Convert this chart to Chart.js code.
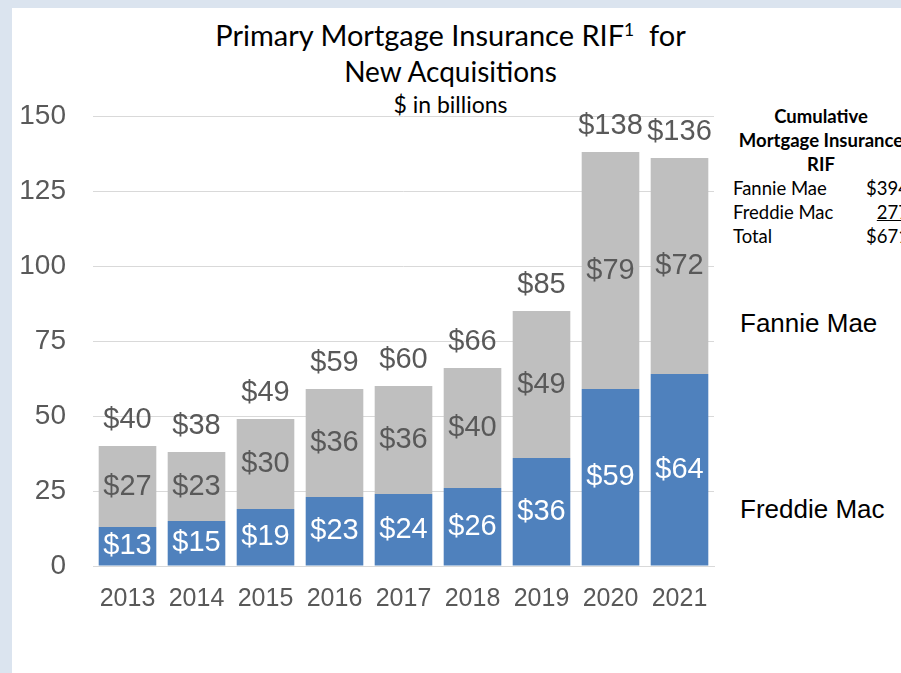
<!DOCTYPE html>
<html>
<head>
<meta charset="utf-8">
<script src="https://cdn.jsdelivr.net/npm/chart.js@4/dist/chart.umd.min.js"></script>
<style>
  html, body { margin: 0; padding: 0; }
  body { width: 901px; height: 673px; overflow: hidden; background: #dbe4ef; position: relative; }
  #panel { position: absolute; left: 12px; top: 8px; right: 0; bottom: 0; background: #fff; }
  #wrap { position: absolute; left: 0; top: 0; width: 901px; height: 673px; }
  .title { position: absolute; left: 0; width: 901px; text-align: center; font-family: Lato, "Open Sans", sans-serif; color: #000; white-space: pre; }
  .title sup { font-size: 0.6em; vertical-align: 0.55em; line-height: 0; }
  .side { position: absolute; font-family: "Liberation Sans", Arial, sans-serif; font-size: 26px; color: #000; }
  #cum { position: absolute; left: 733px; top: 104px; width: 176px; font-family: Lato, "Open Sans", sans-serif; font-size: 18.5px; color: #000; line-height: 24px; }
  #cum .h { text-align: center; font-weight: bold; white-space: nowrap; }
  #cum .r { display: flex; justify-content: space-between; }
  #cum .u { text-decoration: underline; }
</style>
</head>
<body>
<div id="panel"></div>
<div class="title" style="top:17px;font-size:29px;">Primary Mortgage Insurance RIF<sup>1</sup>  for</div>
<div class="title" style="top:54px;font-size:28px;">New Acquisitions</div>
<div class="title" style="top:90px;font-size:23px;">$ in billions</div>
<div id="cum">
  <div class="h">Cumulative</div>
  <div class="h">Mortgage Insurance</div>
  <div class="h">RIF</div>
  <div class="r"><span>Fannie Mae</span><span>$394</span></div>
  <div class="r"><span>Freddie Mac</span><span class="u">277</span></div>
  <div class="r"><span>Total</span><span>$671</span></div>
</div>
<div class="side" style="left:740px;top:308px;">Fannie Mae</div>
<div class="side" style="left:740px;top:494px;">Freddie Mac</div>
<div id="wrap"><canvas id="chart"></canvas></div>
<script>
const years = ['2013', '2014', '2015', '2016', '2017', '2018', '2019', '2020', '2021'];
const freddieMac = [13, 15, 19, 23, 24, 26, 36, 59, 64];
const fannieMae = [27, 23, 30, 36, 36, 40, 49, 79, 72];
const yTicks = [0, 25, 50, 75, 100, 125, 150];

const labelFont = '29px "Liberation Sans", Arial, sans-serif';

const barLabels = {
    id: 'barLabels',
    afterDatasetsDraw(chart) {
        const ctx = chart.ctx;
        ctx.save();
        ctx.font = labelFont;
        ctx.textAlign = 'center';
        ctx.textBaseline = 'middle';
        chart.data.datasets.forEach(function (ds, i) {
            const meta = chart.getDatasetMeta(i);
            meta.data.forEach(function (bar, j) {
                ctx.fillStyle = i === 0 ? '#ffffff' : '#595959';
                ctx.fillText('$' + ds.data[j], bar.x, (bar.y + bar.base) / 2);
            });
        });
        // totals above the stack
        const top = chart.getDatasetMeta(chart.data.datasets.length - 1);
        top.data.forEach(function (bar, j) {
            const total = freddieMac[j] + fannieMae[j];
            ctx.fillStyle = '#595959';
            ctx.fillText('$' + total, bar.x, bar.y - 26);
        });
        ctx.restore();
    }
};

const ctx = document.getElementById('chart').getContext('2d');
const chart = new Chart(ctx, {
    type: 'bar',
    data: {
        labels: years,
        datasets: [
            {
                label: 'Freddie Mac',
                data: freddieMac,
                backgroundColor: '#4f81bd',
                barPercentage: 0.835,
                categoryPercentage: 1
            },
            {
                label: 'Fannie Mae',
                data: fannieMae,
                backgroundColor: '#bfbfbf',
                barPercentage: 0.835,
                categoryPercentage: 1
            }
        ]
    },
    options: {
        responsive: true,
        maintainAspectRatio: false,
        animation: false,
        layout: {
            padding: { left: 0, right: 187, top: 116, bottom: 57 }
        },
        plugins: {
            legend: { display: false },
            title: { display: false },
            tooltip: { enabled: false }
        },
        scales: {
            x: {
                stacked: true,
                grid: { display: false, drawTicks: false },
                border: { display: true, color: '#d9d9d9', width: 1 },
                ticks: {
                    color: '#595959',
                    padding: 18,
                    maxRotation: 0,
                    font: { family: '"Liberation Sans", Arial, sans-serif', size: 25 }
                },
                afterFit: function (scale) { scale.height = 50; }
            },
            y: {
                stacked: true,
                min: 0,
                max: 150,
                afterBuildTicks: function (scale) {
                    scale.ticks = yTicks.map(function (v) { return { value: v }; });
                },
                grid: { color: '#d9d9d9', drawTicks: false },
                border: { display: false },
                ticks: {
                    color: '#595959',
                    padding: 27,
                    font: { family: '"Liberation Sans", Arial, sans-serif', size: 28 }
                },
                afterFit: function (scale) { scale.width = 93; }
            }
        }
    },
    plugins: [barLabels]
});
</script>
</body>
</html>
